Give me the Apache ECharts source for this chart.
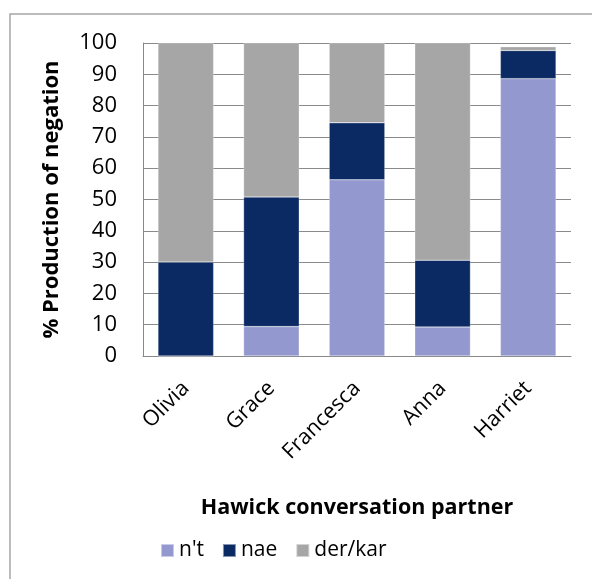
<!DOCTYPE html>
<html><head><meta charset="utf-8">
<script src="https://cdn.jsdelivr.net/npm/echarts@6/dist/echarts.min.js"></script>
<style>html,body{margin:0;padding:0;background:#fff}#c{width:592px;height:579px}</style>
</head><body><div id="c"></div>
<script>
const categories = ['Olivia','Grace','Francesca','Anna','Harriet'];
const ntValues = [0, 9.4, 56.3, 9.3, 88.6];
const naeValues = [30.0, 41.4, 18.2, 21.3, 9.0];
const derKarValues = [70.0, 49.2, 25.5, 69.4, 1.2];
const yTicks = [0,10,20,30,40,50,60,70,80,90,100];

const font = '"Open Sans", "Noto Sans", sans-serif';
const chart = echarts.init(document.getElementById('c'));
const mk = (name, data, color) => ({
  name, type: 'bar', stack: 'total', data, barWidth: '65%',
  itemStyle: { color, borderColor: 'rgba(255,255,255,0.5)', borderWidth: 0.5 },
  emphasis: { disabled: true }, animation: false
});
chart.setOption({
  animation: false,
  textStyle: { fontFamily: font },
  graphic: [{ type: 'rect', shape: { x: 10, y: 14, width: 600, height: 600 },
    style: { fill: 'none', stroke: '#a6a6a6', lineWidth: 1.5 }, silent: true }],
  grid: { left: 143, right: 21, top: 43, bottom: 223 },
  legend: {
    bottom: 13, left: 155, itemWidth: 13, itemHeight: 13, itemGap: 18,
    icon: 'rect', textStyle: { fontSize: 21, color: '#000', fontFamily: font },
    data: ["n't", 'nae', 'der/kar']
  },
  xAxis: {
    type: 'category', data: categories,
    name: 'Hawick conversation partner', nameLocation: 'middle', nameGap: 141,
    nameTextStyle: { fontSize: 21.5, fontWeight: 'bold', color: '#000', fontFamily: font },
    axisLine: { lineStyle: { color: '#888', width: 1 } },
    axisTick: { show: false },
    axisLabel: { rotate: 45, fontSize: 21.5, color: '#000', margin: 29, fontFamily: font, interval: 0 }
  },
  yAxis: {
    type: 'value', min: 0, max: 100, interval: 10,
    name: '% Production of negation', nameLocation: 'middle', nameGap: 80,
    nameTextStyle: { fontSize: 22, fontWeight: 'bold', color: '#000', fontFamily: font },
    axisLine: { show: true, lineStyle: { color: '#888', width: 1 } },
    axisTick: { show: false },
    axisLabel: { fontSize: 22, color: '#000', margin: 26, fontFamily: font,
      formatter: v => yTicks.includes(v) ? String(v) : '' },
    splitLine: { lineStyle: { color: '#8a8a8a', width: 1 } }
  },
  series: [
    mk("n't", ntValues, '#9399CE'),
    mk('nae', naeValues, '#0B2A63'),
    mk('der/kar', derKarValues, '#A6A6A6')
  ]
});
</script></body></html>
